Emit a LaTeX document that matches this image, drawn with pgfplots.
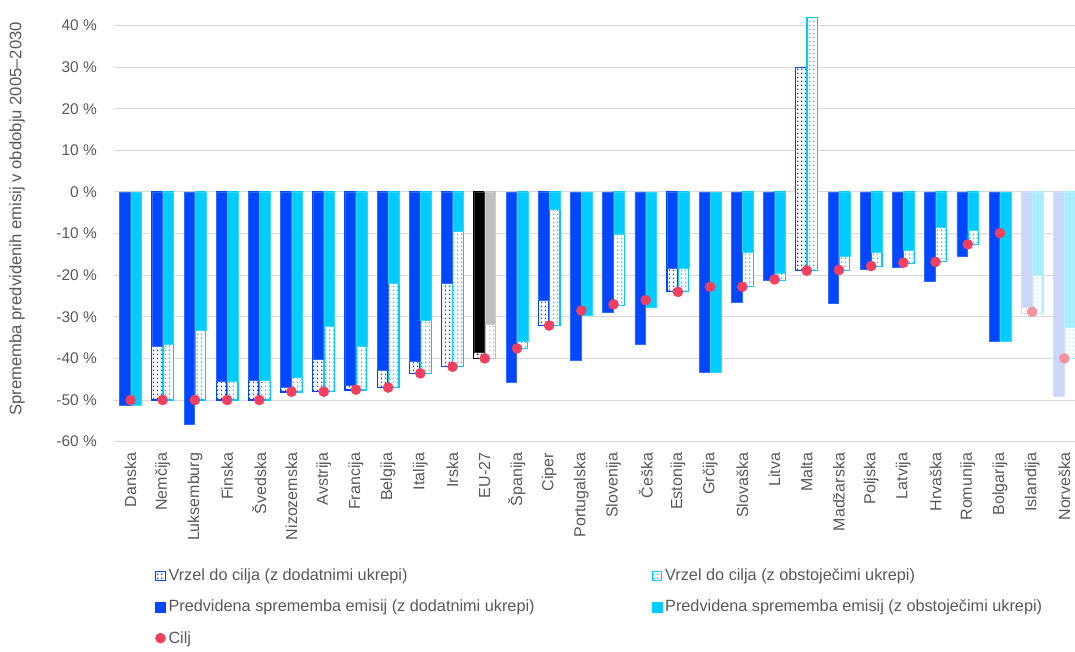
\documentclass[border=0pt]{standalone}
\usepackage{fontspec}
\setmainfont{Liberation Sans}
\usepackage{pgfplots}
\pgfplotsset{compat=1.18}
\usetikzlibrary{patterns}
\pgfdeclarepatternformonly{bdots}{\pgfqpoint{0pt}{0pt}}{\pgfqpoint{3pt}{3pt}}{\pgfqpoint{3pt}{3pt}}{%
  \pgfpathrectangle{\pgfqpoint{0.9pt}{0.9pt}}{\pgfqpoint{1.2pt}{1.2pt}}\pgfusepath{fill}}
\definecolor{wam}{HTML}{0047FF}
\definecolor{wem}{HTML}{00CCFF}
\definecolor{euwam}{HTML}{000000}
\definecolor{euwem}{HTML}{BFBFBF}
\definecolor{pwam}{HTML}{CAD7FA}
\definecolor{pwem}{HTML}{A8EEFF}
\definecolor{tgt}{HTML}{F03F5F}
\definecolor{ptgt}{HTML}{F4929F}
\definecolor{txt}{HTML}{595959}
\definecolor{grd}{HTML}{D9D9D9}
\pgfplotsset{
  gapfill/.style={fill=white, draw=#1, line width=0.9pt,
    postaction={pattern=bdots, pattern color=#1}, forget plot},
  gap/.style={ybar, bar width=7.9pt, gapfill=#1},
  sol/.style={ybar, bar width=7.9pt, fill=#1, draw=#1!80!white, line width=0.4pt, forget plot},
}
\begin{document}
\begin{tikzpicture}
\path[use as bounding box] (0,0) rectangle (806.25pt,488.25pt);
\begin{axis}[
  at={(85.8pt,157.05pt)}, anchor=south west,
  scale only axis, width=720.9pt, height=324.5pt,
  xmin=-0.5, xmax=29.35, ymin=-60, ymax=44,
  axis line style={draw=none}, major tick length=0pt,
  ymajorgrids, grid style={grd, line width=0.75pt},
  ytick={-60,-50,...,40},
  yticklabel={\pgfmathprintnumber[assume math mode=true]{\tick}~\%},
  yticklabel style={font=\fontsize{11.6}{13}\selectfont, text=txt, inner sep=0pt, xshift=-13pt},
  xtick={0,...,29},
  xticklabels={Danska,Nemčija,Luksemburg,Finska,Švedska,Nizozemska,Avstrija,Francija,Belgija,Italija,Irska,EU-27,Španija,Ciper,Portugalska,Slovenija,Češka,Estonija,Grčija,Slovaška,Litva,Malta,Madžarska,Poljska,Latvija,Hrvaška,Romunija,Bolgarija,Islandija,Norveška},
  xticklabel style={rotate=90, anchor=east, inner sep=0pt, font=\fontsize{12}{14}\selectfont, text=txt},
  xticklabel shift=8.25pt,
  ylabel={Sprememba predvidenih emisij v obdobju 2005–2030},
  ylabel style={at={(rel axis cs:-0.1013,0.515)}, anchor=center, font=\fontsize{12.5}{14}\selectfont, text=txt},
  legend style={at={(rel axis cs:0.0422,-0.2875)}, anchor=north west, draw=none, fill=none,
    inner sep=0pt, font=\fontsize{12.2}{14}\selectfont, text=txt, row sep=9pt,
    /tikz/every even column/.append style={column sep=86pt}},
  legend cell align=left,
  legend columns=2,
]
\addlegendimage{legend image code/.code={\draw[draw=wam, line width=0.8pt, fill=white, postaction={pattern=bdots, pattern color=wam}] (0pt,-3.5pt) rectangle (7pt,3.5pt);}}
\addlegendentry{Vrzel do cilja (z dodatnimi ukrepi)}
\addlegendimage{legend image code/.code={\draw[draw=wem, line width=0.8pt, fill=white, postaction={pattern=bdots, pattern color=wem}] (0pt,-3.5pt) rectangle (7pt,3.5pt);}}
\addlegendentry{Vrzel do cilja (z obstoječimi ukrepi)}
\addlegendimage{legend image code/.code={\fill[wam] (-0.2pt,-3.75pt) rectangle (7.3pt,3.75pt);}}
\addlegendentry{Predvidena sprememba emisij (z dodatnimi ukrepi)}
\addlegendimage{legend image code/.code={\fill[wem] (-0.2pt,-3.75pt) rectangle (7.3pt,3.75pt);}}
\addlegendentry{Predvidena sprememba emisij (z obstoječimi ukrepi)}
\addlegendimage{legend image code/.code={\fill[tgt] (3.5pt,0pt) circle (3.75pt);}}
\addlegendentry{Cilj}

% gaps (drawn from 0 to target, solid bars cover 0..projection)
\addplot[gap=wam, bar shift=-4.2pt] coordinates {(1,-50) (3,-50) (4,-50) (5,-48.1) (6,-48) (7,-47.6) (8,-47) (9,-43.6) (10,-42) (13,-32.1) (17,-24)};
\addplot[gap=euwam, bar shift=-4.2pt] coordinates {(11,-40)};
\addplot[gap=pwam, bar shift=-4.2pt] coordinates {(28,-29.2)};
\addplot[gap=wem, bar shift=4.2pt] coordinates {(1,-50) (2,-50) (3,-50) (4,-50) (5,-48.1) (6,-48) (7,-47.6) (8,-47) (9,-43.6) (10,-42) (12,-37.7) (13,-32.1) (15,-27.2) (17,-24) (19,-22.8) (20,-21.2) (22,-18.9) (23,-17.9) (24,-17.1) (25,-16.8) (26,-12.7)};
\addplot[gap=euwem, bar shift=4.2pt] coordinates {(11,-40)};
\addplot[gap=pwem, bar shift=4.2pt] coordinates {(28,-29.2) (29,-40)};

% Malta: gap spans from target (-18.9) up to projection (+30 / +42)
\addplot[gapfill=wam, sharp plot, mark=none] coordinates {(20.66253,-18.9) (20.98965,-18.9) (20.98965,30) (20.66253,30)} -- cycle;
\addplot[gapfill=wem, sharp plot, mark=none] coordinates {(21.01035,-18.9) (21.33747,-18.9) (21.33747,42) (21.01035,42)} -- cycle;

% projections
\addplot[sol=wam, bar shift=-4.2pt] coordinates {(0,-51.2) (1,-37) (2,-55.8) (3,-45.4) (4,-45.2) (5,-47) (6,-40.2) (7,-46.4) (8,-42.8) (9,-40.8) (10,-22) (12,-45.8) (13,-26.1) (14,-40.4) (15,-29) (16,-36.5) (17,-18.3) (18,-43.3) (19,-26.5) (20,-21.2) (22,-26.8) (23,-18.5) (24,-18.2) (25,-21.4) (26,-15.4) (27,-35.8)};
\addplot[sol=euwam, bar shift=-4.2pt] coordinates {(11,-38.6)};
\addplot[sol=pwam, bar shift=-4.2pt] coordinates {(28,-27.6) (29,-49)};
\addplot[sol=wem, bar shift=4.2pt] coordinates {(0,-51.2) (1,-36.5) (2,-33.2) (3,-45.4) (4,-45.2) (5,-44.6) (6,-32.2) (7,-37.2) (8,-21.9) (9,-30.8) (10,-9.5) (12,-36) (13,-4.2) (14,-29.6) (15,-10.2) (16,-27.7) (17,-18.3) (18,-43.3) (19,-14.6) (20,-19.6) (22,-15.5) (23,-14.6) (24,-14.1) (25,-8.5) (26,-9.1) (27,-35.8)};
\addplot[sol=euwem, bar shift=4.2pt] coordinates {(11,-31.7)};
\addplot[sol=pwem, bar shift=4.2pt] coordinates {(28,-20) (29,-32.4)};

% targets
\addplot[only marks, mark=*, mark size=3.75pt, color=tgt, forget plot] coordinates {(0,-50) (1,-50) (2,-50) (3,-50) (4,-50) (5,-48) (6,-48) (7,-47.5) (8,-47) (9,-43.6) (10,-42) (11,-40) (12,-37.6) (13,-32.1) (14,-28.5) (15,-27) (16,-26) (17,-24) (18,-22.8) (19,-22.8) (20,-21) (21,-18.9) (22,-18.75) (23,-17.8) (24,-17) (25,-16.8) (26,-12.6) (27,-9.9)};
\addplot[only marks, mark=*, mark size=3.75pt, color=ptgt, forget plot] coordinates {(28,-28.8) (29,-40)};
\end{axis}
\end{tikzpicture}
\end{document}
